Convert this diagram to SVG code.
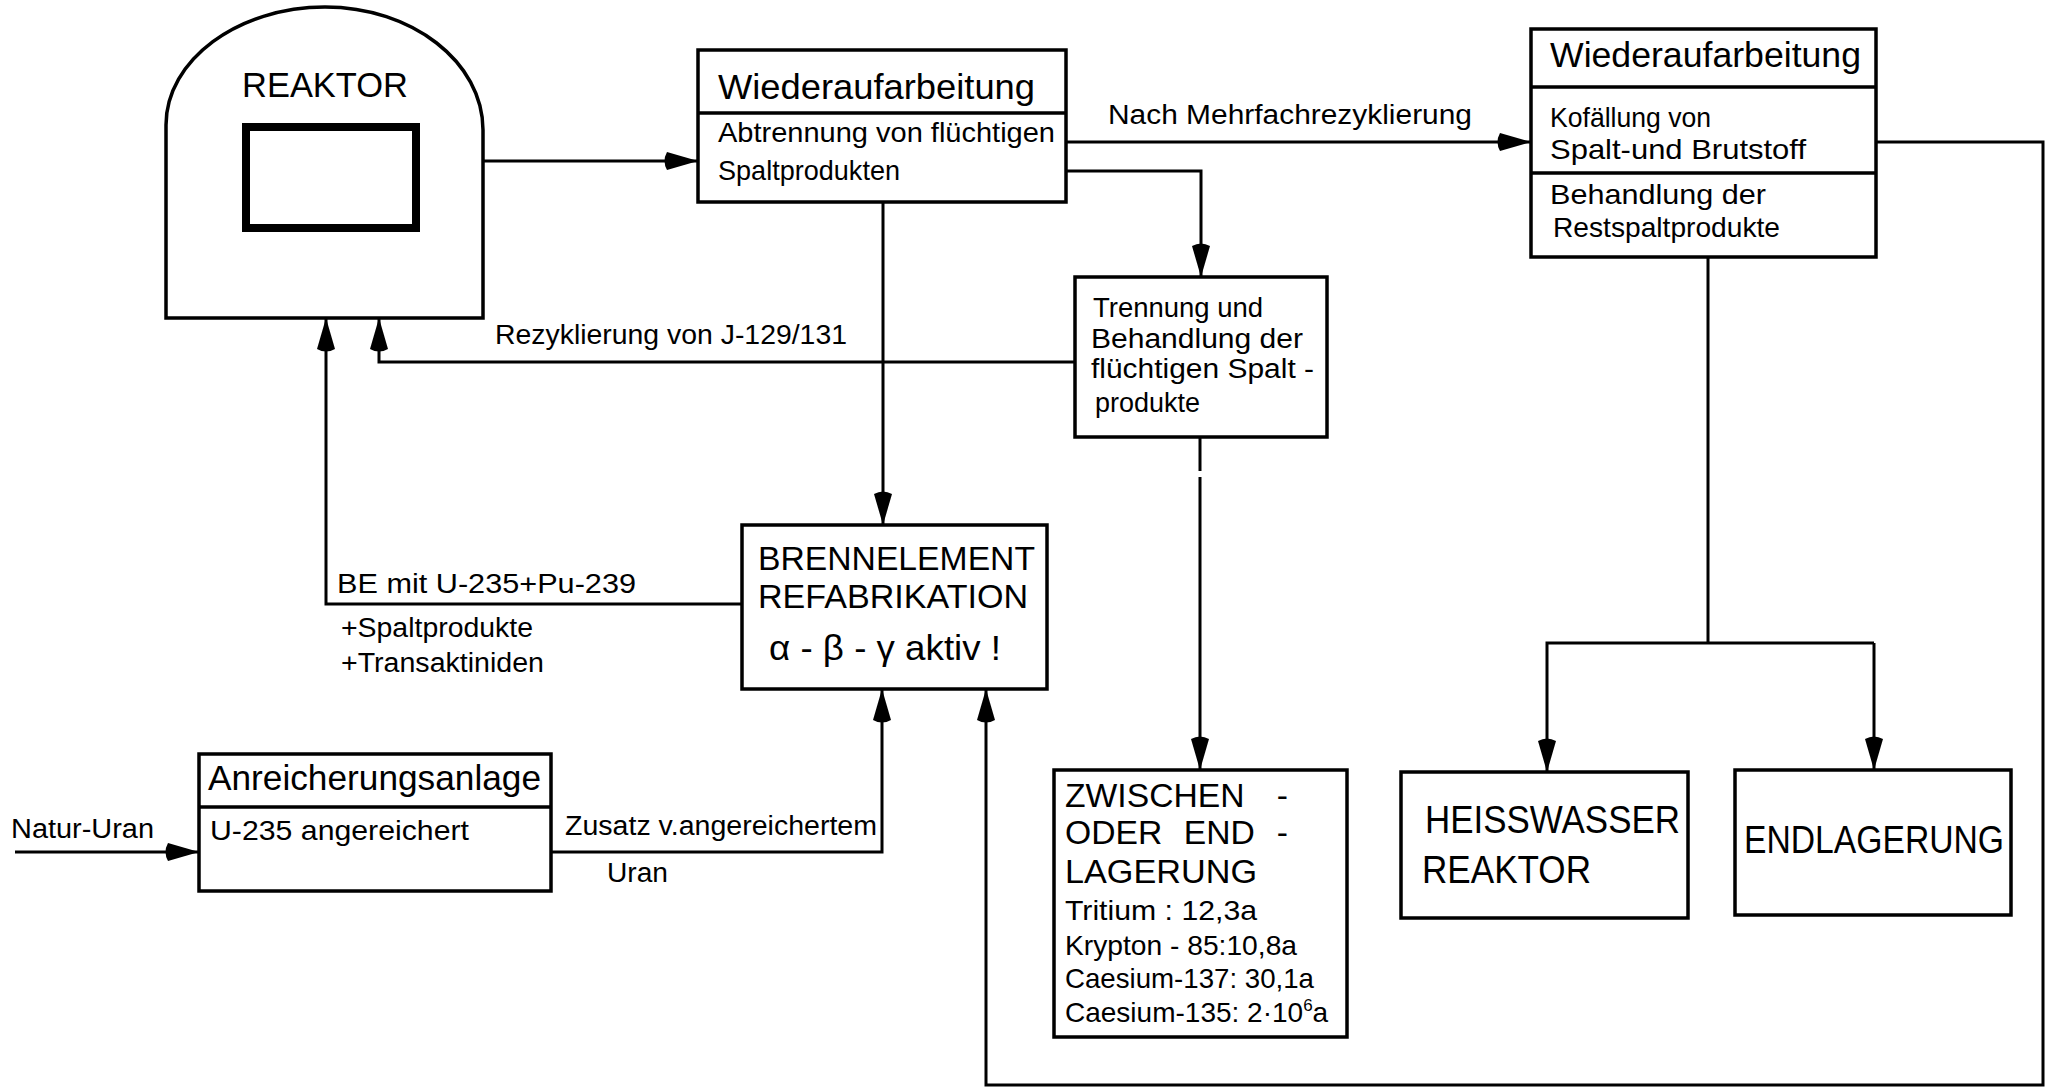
<svg xmlns="http://www.w3.org/2000/svg" width="2048" height="1087" viewBox="0 0 2048 1087">
<defs>
<style>
.box{fill:#fff;stroke:#000;stroke-width:3.5}
.div{stroke:#000;stroke-width:3.5;fill:none}
.con{fill:none;stroke:#000;stroke-width:3}
text{font-family:"Liberation Sans",Arial,sans-serif;fill:#000}
.h{font-size:35px}
.b{font-size:28px}
.l{font-size:27px}
.big{font-size:39px}
.mid{font-size:34px}
.iso{font-size:28px}
</style>
<marker id="arr" viewBox="-38 -11 40 22" refX="0" refY="0" markerWidth="40" markerHeight="22" markerUnits="userSpaceOnUse" orient="auto">
<path d="M0,0 L-31,-9 Q-36,0 -31,9 Z" fill="#000"/>
</marker>
</defs>
<rect width="2048" height="1087" fill="#fff"/>

<g id="connectors">
<path class="con" d="M420,161 H698" marker-end="url(#arr)"/>
<path class="con" d="M1066,142 H1531" marker-end="url(#arr)"/>
<path class="con" d="M1066,171 H1201 V277" marker-end="url(#arr)"/>
<path class="con" d="M883,202 V525" marker-end="url(#arr)"/>
<path class="con" d="M1075,362 H379 V318" marker-end="url(#arr)"/>
<path class="con" d="M1200,437 V471"/>
<path class="con" d="M1200,477 V770" marker-end="url(#arr)"/>
<path class="con" d="M742,604 H326 V318" marker-end="url(#arr)"/>
<path class="con" d="M15,852 H199" marker-end="url(#arr)"/>
<path class="con" d="M551,852 H882 V689" marker-end="url(#arr)"/>
<path class="con" d="M1876,142 H2043 V1085 H986 V689" marker-end="url(#arr)"/>
<path class="con" d="M1708,257 V643"/>
<path class="con" d="M1874,643 H1547 V772" marker-end="url(#arr)"/>
<path class="con" d="M1874,643 V770" marker-end="url(#arr)"/>
<text class="l" x="1108" y="124" textLength="364" lengthAdjust="spacingAndGlyphs">Nach  Mehrfachrezyklierung</text>
<text class="l" x="495" y="344" textLength="352" lengthAdjust="spacingAndGlyphs">Rezyklierung von J-129/131</text>
<text class="l" x="337" y="593" textLength="299" lengthAdjust="spacingAndGlyphs">BE mit U-235+Pu-239</text>
<text class="l" x="341" y="637" textLength="192" lengthAdjust="spacingAndGlyphs">+Spaltprodukte</text>
<text class="l" x="341" y="672" textLength="203" lengthAdjust="spacingAndGlyphs">+Transaktiniden</text>
<text class="l" x="11" y="838" textLength="143" lengthAdjust="spacingAndGlyphs">Natur-Uran</text>
<text class="l" x="565" y="835" textLength="312" lengthAdjust="spacingAndGlyphs">Zusatz v.angereichertem</text>
<text class="l" x="607" y="882" textLength="61" lengthAdjust="spacingAndGlyphs">Uran</text>
</g>

<g id="reaktor">
<path class="box" d="M166,318 V125 C166,60 238,7 325,7 C412,7 483,62 483,130 V318 Z"/>
<rect x="246" y="127" width="170" height="101" fill="none" stroke="#000" stroke-width="8"/>
<text class="h" x="242" y="97" textLength="166" lengthAdjust="spacingAndGlyphs">REAKTOR</text>
</g>

<g id="wiederaufarbeitung1">
<rect class="box" x="698" y="50" width="368" height="152"/>
<path class="div" d="M698,113 H1066"/>
<text class="h" x="718" y="99" textLength="317" lengthAdjust="spacingAndGlyphs">Wiederaufarbeitung</text>
<text class="b" x="718" y="142" textLength="337" lengthAdjust="spacingAndGlyphs">Abtrennung von flüchtigen</text>
<text class="b" x="718" y="180" textLength="182" lengthAdjust="spacingAndGlyphs">Spaltprodukten</text>
</g>

<g id="wiederaufarbeitung2">
<rect class="box" x="1531" y="29" width="345" height="228"/>
<path class="div" d="M1531,87 H1876 M1531,173 H1876"/>
<text class="h" x="1550" y="67" textLength="311" lengthAdjust="spacingAndGlyphs">Wiederaufarbeitung</text>
<text class="b" x="1550" y="127" textLength="161" lengthAdjust="spacingAndGlyphs">Kofällung  von</text>
<text class="b" x="1550" y="159" textLength="256" lengthAdjust="spacingAndGlyphs">Spalt-und Brutstoff</text>
<text class="b" x="1550" y="204" textLength="216" lengthAdjust="spacingAndGlyphs">Behandlung  der</text>
<text class="b" x="1553" y="237" textLength="227" lengthAdjust="spacingAndGlyphs">Restspaltprodukte</text>
</g>

<g id="trennung">
<rect class="box" x="1075" y="277" width="252" height="160"/>
<text class="l" x="1093" y="317" textLength="170" lengthAdjust="spacingAndGlyphs">Trennung und</text>
<text class="l" x="1091" y="348" textLength="212" lengthAdjust="spacingAndGlyphs">Behandlung der</text>
<text class="l" x="1091" y="378" textLength="223" lengthAdjust="spacingAndGlyphs">flüchtigen Spalt -</text>
<text class="l" x="1095" y="412" textLength="105" lengthAdjust="spacingAndGlyphs">produkte</text>
</g>

<g id="brennelement">
<rect class="box" x="742" y="525" width="305" height="164"/>
<text class="mid" x="758" y="570" textLength="277" lengthAdjust="spacingAndGlyphs">BRENNELEMENT</text>
<text class="mid" x="758" y="608" textLength="270" lengthAdjust="spacingAndGlyphs">REFABRIKATION</text>
<text class="h" x="769" y="660" textLength="232" lengthAdjust="spacingAndGlyphs">α - β - γ aktiv !</text>
</g>

<g id="anreicherung">
<rect class="box" x="199" y="754" width="352" height="137"/>
<path class="div" d="M199,807 H551"/>
<text class="h" x="208" y="790" textLength="333" lengthAdjust="spacingAndGlyphs">Anreicherungsanlage</text>
<text class="b" x="210" y="840" textLength="259" lengthAdjust="spacingAndGlyphs">U-235 angereichert</text>
</g>

<g id="zwischenlagerung">
<rect class="box" x="1054" y="770" width="293" height="267"/>
<text class="mid" transform="translate(1065,807) scale(0.99,1)" x="0" y="0">ZWISCHEN<tspan x="214">-</tspan></text>
<text class="mid" transform="translate(1065,844) scale(0.99,1)" x="0" y="0">ODER<tspan x="120">END</tspan><tspan x="214">-</tspan></text>
<text class="mid" x="1065" y="883" textLength="192" lengthAdjust="spacingAndGlyphs">LAGERUNG</text>
<text class="iso" x="1065" y="920" textLength="192" lengthAdjust="spacingAndGlyphs">Tritium  : 12,3a</text>
<text class="iso" x="1065" y="955" textLength="232" lengthAdjust="spacingAndGlyphs">Krypton - 85:10,8a</text>
<text class="iso" x="1065" y="988" textLength="249" lengthAdjust="spacingAndGlyphs">Caesium-137: 30,1a</text>
<text class="iso" x="1065" y="1022">Caesium-135: 2·10<tspan dy="-11" font-size="17">6</tspan><tspan dy="11">a</tspan></text>
</g>

<g id="heisswasser">
<rect class="box" x="1401" y="772" width="287" height="146"/>
<text class="big" x="1425" y="833" textLength="255" lengthAdjust="spacingAndGlyphs">HEISSWASSER</text>
<text class="big" x="1422" y="883" textLength="169" lengthAdjust="spacingAndGlyphs">REAKTOR</text>
</g>

<g id="endlagerung">
<rect class="box" x="1735" y="770" width="276" height="145"/>
<text class="big" x="1744" y="853" textLength="260" lengthAdjust="spacingAndGlyphs">ENDLAGERUNG</text>
</g>
</svg>
